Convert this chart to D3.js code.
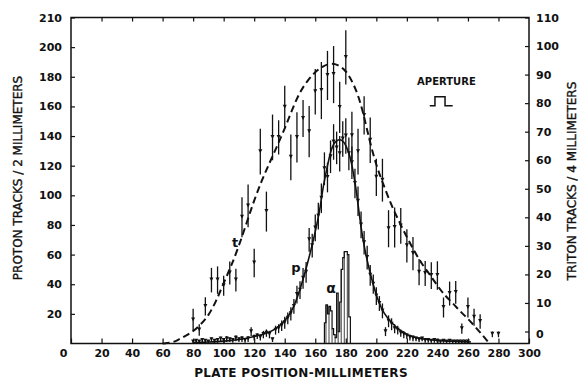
<!DOCTYPE html>
<html>
<head>
<meta charset="utf-8">
<script src="https://cdn.jsdelivr.net/npm/d3@7"></script>
<style>
  body { margin: 0; background: #fff; }
  svg text { font-family: "DejaVu Sans", sans-serif; fill: #111; }
</style>
</head>
<body>
<div id="chart"></div>
<script>
// triton points, every 4 mm (right axis, tracks / 4 mm)
const tPos = [80, 84, 88, 92, 96, 100, 104, 108, 112, 116, 120, 124, 128, 132, 136, 140, 144, 148, 152, 156,
  160, 164, 168, 172, 176, 180, 184, 188, 192, 196, 200, 204, 208, 212, 216, 220, 224, 228, 232, 236,
  240, 244, 248, 252, 256, 260, 264, 268, 276, 280];
const tVal = [4, 0.5, 8.8, 18, 18, 16, 20.5, 18, 40, 44, 24, 63, 42, 68, 68, 78.6, 61, 68, 74.6, 70,
  84, 84.4, 89.7, 90, 78.5, 96, 68.6, 63, 75.7, 67, 54, 53, 36, 36.4, 37, 30, 27.3, 20.8, 20.3, 19.6,
  19.6, 8.4, 13.3, 13.7, 1, 8.4, 5, 3.5, -1, -1];
const tErr = [4, 2, 3.2, 4.3, 4.8, 3.5, 4, 4, 7, 7.5, 5, 8, 7, 8, 6, 7.5, 8, 8.8, 6.5, 9,
  8, 10, 8.6, 10, 9, 9.5, 8.4, 8, 6.7, 8, 6.5, 7.5, 6.5, 7, 6.3, 5.8, 5.8, 4.6, 4.4, 4.7,
  5, 3.5, 4.2, 4, 1.8, 3.5, 3, 2.5, 1, 1];

// dashed triton curve
const tCurvePos = [60, 66, 70, 75, 80, 85, 90, 95, 100, 105, 110, 115, 120, 125, 130, 135, 140, 145, 150, 155,
  160, 165, 170, 175, 180, 185, 190, 195, 200, 205, 210, 215, 220, 225, 230, 235, 240, 245, 250, 255,
  260, 265, 270, 274];
const tCurveVal = [-4.2, -4, -3, -1.5, 0, 2.5, 5.5, 10.5, 17, 23, 30, 38, 46, 53, 59, 65, 71, 78, 84, 88,
  91, 93, 94, 93.5, 91.5, 87, 80, 68, 58, 51, 44, 38.5, 33, 28, 23.5, 20, 16, 12.5, 10, 7,
  4.5, 1.5, -1.5, -4.2];

// proton points, every 2 mm (left axis, tracks / 2 mm)
const pPos = d3.range(80, 261, 2);
const pVal = [1, 1.5, 0.5, 2, 1.5, 1, 2.5, 1.5, 2, 3, 2, 3, 2.5, 2, 3.5, 2.5, 3, 2, 3, 8,
  4, 5, 4, 6, 7, 6, 2.5, 9, 10, 12, 14, 17, 20, 25, 33, 36, 44, 48, 70, 66,
  78, 86, 98, 118, 112, 126, 136, 132, 128, 138, 140, 128, 122, 108, 96, 80, 68, 58, 46, 40,
  32, 27, 22, 8, 15, 13, 10, 9, 7, 6, 5, 4, 3.5, 3, 2.5, 3, 2, 2, 1.5, 2,
  1.5, 1, 1.5, 1, 1.5, 1, 1, 0.5, 1, 1, 0.5];
const pErr = [1, 1, 1, 1.5, 1.5, 1, 1.5, 1.5, 1.5, 1.5, 1.5, 2, 1.5, 1.5, 2, 1.5, 2, 1.5, 2, 3,
  2, 2, 2, 2.5, 2.5, 2.5, 1.5, 3, 3, 3.5, 4, 4, 4.5, 5, 6, 6, 7, 7, 8, 8,
  9, 9, 10, 11, 10, 11, 12, 11, 12, 12, 12, 11, 11, 10, 10, 9, 8, 8, 7, 6.5,
  6, 5, 5, 3, 4, 4, 3, 3, 2.5, 2.5, 2, 2, 2, 1.5, 1.5, 1.5, 1.5, 1.5, 1, 1.5,
  1, 1, 1, 1, 1, 1, 1, 1, 1, 1, 1];

// solid proton curve
const pCurvePos = [80, 90, 100, 110, 120, 130, 135, 140, 145, 150, 155, 160, 163, 165, 167, 170, 172, 175, 178, 180,
  183, 185, 187, 190, 193, 197, 201, 205, 210, 215, 220, 225, 230, 240, 250, 262];
const pCurveVal = [0.5, 1, 1.5, 2.5, 4.5, 7.5, 10.5, 15, 22, 36, 54, 75, 90, 105, 115, 130, 135, 138, 137, 134,
  126, 115, 103, 77, 60, 43, 29, 20, 14, 9, 6, 4, 3, 2, 1.5, 1];

// alpha histogram, 1 mm bins (left edge)
const aBin = [166, 167, 168, 169, 170, 171, 172, 173, 174, 175, 176, 177, 178, 179, 180, 181, 182];
const aVal = [14, 26, 20, 25, 22, 10, 6, 4, 34, 8, 28, 50, 58, 62, 62, 60, 18];

const xTicks = d3.range(0, 301, 20);
const leftTicks = [20, 40, 60, 80, 100, 120, 140, 160, 180, 200, 220];
const rightTicks = [0, 10, 20, 30, 40, 50, 60, 70, 80, 90, 100, 110];

const W = 579, H = 381;
const svg = d3.select("#chart").append("svg").attr("width", W).attr("height", H);

const x = d3.scaleLinear().domain([0, 300]).range([71, 529]);
const yL = d3.scaleLinear().domain([0, 220]).range([343.5, 17.5]);
const yR = d3.scaleLinear().domain([0, 110]).range([331.5, 17.5]);

// frame
svg.append("rect").attr("x", 71).attr("y", 17.5).attr("width", 458).attr("height", 326)
  .attr("fill", "none").attr("stroke", "#111").attr("stroke-width", 1.5);

// bottom axis
const gx = svg.append("g").attr("transform", "translate(0,343.5)")
  .call(d3.axisBottom(x).tickValues(xTicks).tickSize(-5).tickFormat(d3.format("d")));
gx.select(".domain").remove();
gx.selectAll("text").attr("y", 6).attr("font-size", 11).attr("font-weight", "bold")
  .attr("dx", d => d === 0 ? -8 : 0);

// top ticks
const gt = svg.append("g").attr("transform", "translate(0,17.5)")
  .call(d3.axisTop(x).tickValues(xTicks.slice(1, -1)).tickSize(-4).tickFormat(""));
gt.select(".domain").remove();

// left axis
const gl = svg.append("g").attr("transform", "translate(71,0)")
  .call(d3.axisLeft(yL).tickValues(leftTicks).tickSize(-4).tickPadding(9)
    .tickFormat(d => d === 220 ? "210" : d));
gl.select(".domain").remove();
gl.selectAll("text").attr("font-size", 11).attr("font-weight", "bold");

// right axis
const gr = svg.append("g").attr("transform", "translate(529,0)")
  .call(d3.axisRight(yR).tickValues(rightTicks).tickSize(-4).tickPadding(7));
gr.select(".domain").remove();
gr.selectAll("text").attr("font-size", 11).attr("font-weight", "bold");
gr.selectAll(".tick").filter(d => d === 0).select("text").attr("dy", "0.55em");

svg.selectAll(".tick line").attr("stroke", "#111").attr("stroke-width", 1.2);

// axis titles
svg.append("text").attr("transform", "translate(22,178) rotate(-90)")
  .attr("text-anchor", "middle").attr("font-size", 12)
  .attr("stroke", "#111").attr("stroke-width", 0.35)
  .text("PROTON TRACKS / 2 MILLIMETERS");
svg.append("text").attr("transform", "translate(576,181) rotate(-90)")
  .attr("text-anchor", "middle").attr("font-size", 12)
  .attr("stroke", "#111").attr("stroke-width", 0.35)
  .text("TRITON TRACKS / 4 MILLIMETERS");
svg.append("text").attr("x", 301).attr("y", 377).attr("text-anchor", "middle")
  .attr("font-size", 12).attr("font-weight", "bold").attr("letter-spacing", 0.3)
  .text("PLATE POSITION-MILLIMETERS");

// curves
const tLine = d3.line().x(d => x(d[0])).y(d => yR(d[1])).curve(d3.curveBasis);
svg.append("path").datum(d3.zip(tCurvePos, tCurveVal)).attr("d", tLine)
  .attr("fill", "none").attr("stroke", "#111").attr("stroke-width", 2).attr("stroke-dasharray", "7,4");

const pLine = d3.line().x(d => x(d[0])).y(d => yL(d[1])).curve(d3.curveBasis);
svg.append("path").datum(d3.zip(pCurvePos, pCurveVal)).attr("d", pLine)
  .attr("fill", "none").attr("stroke", "#111").attr("stroke-width", 1.6);

// error bars
function errorBars(pos, val, err, y, cls) {
  const g = svg.append("g").attr("class", cls);
  const pts = d3.zip(pos, val, err);
  g.selectAll("line").data(pts).join("line")
    .attr("x1", d => x(d[0])).attr("x2", d => x(d[0]))
    .attr("y1", d => Math.min(343.5, y(d[1] - d[2]))).attr("y2", d => y(d[1] + d[2]))
    .attr("stroke", "#111").attr("stroke-width", 1.3);
  g.selectAll("path").data(pts).join("path")
    .attr("d", d => {
      const cx = x(d[0]), cy = Math.min(342, y(d[1]));
      return `M${cx - 2},${cy - 2.5}L${cx + 2},${cy - 2.5}L${cx},${cy + 1.5}Z`;
    })
    .attr("fill", "#111");
}
errorBars(pPos, pVal, pErr, yL, "p-pts");
errorBars(tPos, tVal, tErr, yR, "t-pts");

// alpha histogram
const aPts = d3.zip(aBin, aVal);
svg.append("g").selectAll("line").data(aPts.filter((d, i) => i % 2 === 1)).join("line")
  .attr("x1", d => x(d[0])).attr("x2", d => x(d[0]))
  .attr("y1", yL(0)).attr("y2", d => yL(d[1]))
  .attr("stroke", "#111").attr("stroke-width", 0.8);
const aStep = aPts.concat([[aBin[aBin.length - 1] + 1, 0]]);
svg.append("path").datum([[aBin[0], 0]].concat(aStep))
  .attr("d", d3.line().x(d => x(d[0])).y(d => yL(d[1])).curve(d3.curveStepAfter))
  .attr("fill", "none").attr("stroke", "#111").attr("stroke-width", 1.2);

// curve labels
svg.append("text").attr("x", 235).attr("y", 247).attr("font-size", 13).attr("font-weight", "bold")
  .attr("text-anchor", "middle").text("t");
svg.append("text").attr("x", 296).attr("y", 272).attr("font-size", 13).attr("font-weight", "bold")
  .attr("text-anchor", "middle").text("p");
svg.append("text").attr("x", 331).attr("y", 293).attr("font-size", 14).attr("font-weight", "bold")
  .attr("text-anchor", "middle").text("α");

// aperture
svg.append("text").attr("x", x(245.9)).attr("y", 85).attr("font-size", 10).attr("font-weight", "bold")
  .attr("text-anchor", "middle").text("APERTURE");
const apX = [235, 238.4, 238.4, 245, 245, 250];
const apY = [160.5, 160.5, 166.5, 166.5, 160.5, 160.5];
svg.append("path").datum(d3.zip(apX, apY))
  .attr("d", d3.line().x(d => x(d[0])).y(d => yL(d[1])))
  .attr("fill", "none").attr("stroke", "#111").attr("stroke-width", 1.5);
</script>
</body>
</html>
